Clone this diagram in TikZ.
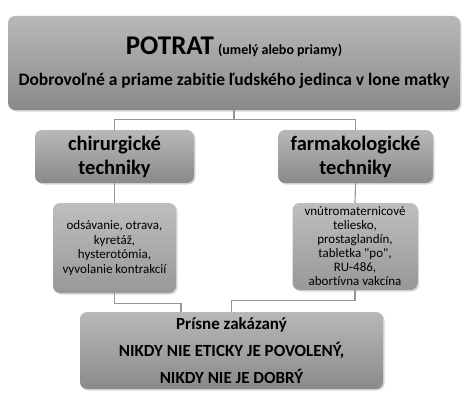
\documentclass[tikz,border=0pt]{standalone}
\usepackage{fontspec}
\setmainfont{Carlito}[Ligatures=NoCommon]
\usetikzlibrary{shadows}
\definecolor{boxtop}{RGB}{184,184,184}
\definecolor{boxbot}{RGB}{138,138,138}
\definecolor{smtop}{RGB}{190,190,190}
\definecolor{smbot}{RGB}{152,152,152}
\definecolor{linegray}{RGB}{150,150,150}
\tikzset{
  box/.style={rounded corners=7pt, top color=boxtop, bottom color=boxbot, draw=none,
    drop shadow={shadow xshift=1.5pt, shadow yshift=-1.5pt, opacity=0.3},
    align=center, inner sep=2pt},
  smallbox/.style={box, top color=smtop, bottom color=smbot},
  conn/.style={draw=linegray, line width=1.1pt}
}
\begin{document}
\begin{tikzpicture}[x=1pt,y=-1pt]
\useasboundingbox[fill=white] (0,0) rectangle (474,404);
\node[box, minimum width=452pt, minimum height=94pt,
      font=\fontsize{17.5}{20}\selectfont\bfseries] (top) at (234,63)
  {{\fontsize{27}{30}\selectfont POTRAT} {\fontsize{14}{16}\selectfont (umelý alebo priamy)}\\[11pt]
   Dobrovoľné a priame zabitie ľudského jedinca v lone matky};
\node[box, minimum width=159pt, minimum height=53pt,
      font=\fontsize{20.5}{24}\selectfont\bfseries] (lmid) at (114.5,156.5)
  {chirurgické\\ techniky};
\node[box, minimum width=155pt, minimum height=53pt,
      font=\fontsize{20.5}{24}\selectfont\bfseries] (rmid) at (355.5,156.5)
  {farmakologické\\ techniky};
\node[smallbox, minimum width=123pt, minimum height=90pt,
      font=\fontsize{13}{14.5}\selectfont] (lsm) at (114.5,248)
  {odsávanie, otrava,\\ kyretáž,\\ hysterotómia,\\ vyvolanie kontrakcií};
\node[smallbox, minimum width=125pt, minimum height=87pt,
      font=\fontsize{13}{14}\selectfont] (rsm) at (355,246.5)
  {vnútromaternicové\\ teliesko,\\ prostaglandín,\\ tabletka \textquotedbl po\textquotedbl,\\ RU-486,\\ abortívna vakcína};
\node[box, minimum width=303pt, minimum height=77pt,
      font=\fontsize{17}{27}\selectfont\bfseries] (bot) at (231.5,350.5)
  {Prísne zakázaný\\ NIKDY NIE ETICKY JE POVOLENÝ,\\ NIKDY NIE JE DOBRÝ};
\draw[conn] (top.south) -- ++(0,9) -| (lmid.north);
\draw[conn] (top.south) -- ++(0,9) -| (rmid.north);
\draw[conn] (lmid.south) -- (lsm.north);
\draw[conn] (rmid.south) -- (rsm.north);
\draw[conn] (lsm.south) -- ++(0,10) -| ([xshift=-50.5pt]bot.north);
\draw[conn] (rsm.south) -- ++(0,10) -| (bot.north);
\end{tikzpicture}
\end{document}
